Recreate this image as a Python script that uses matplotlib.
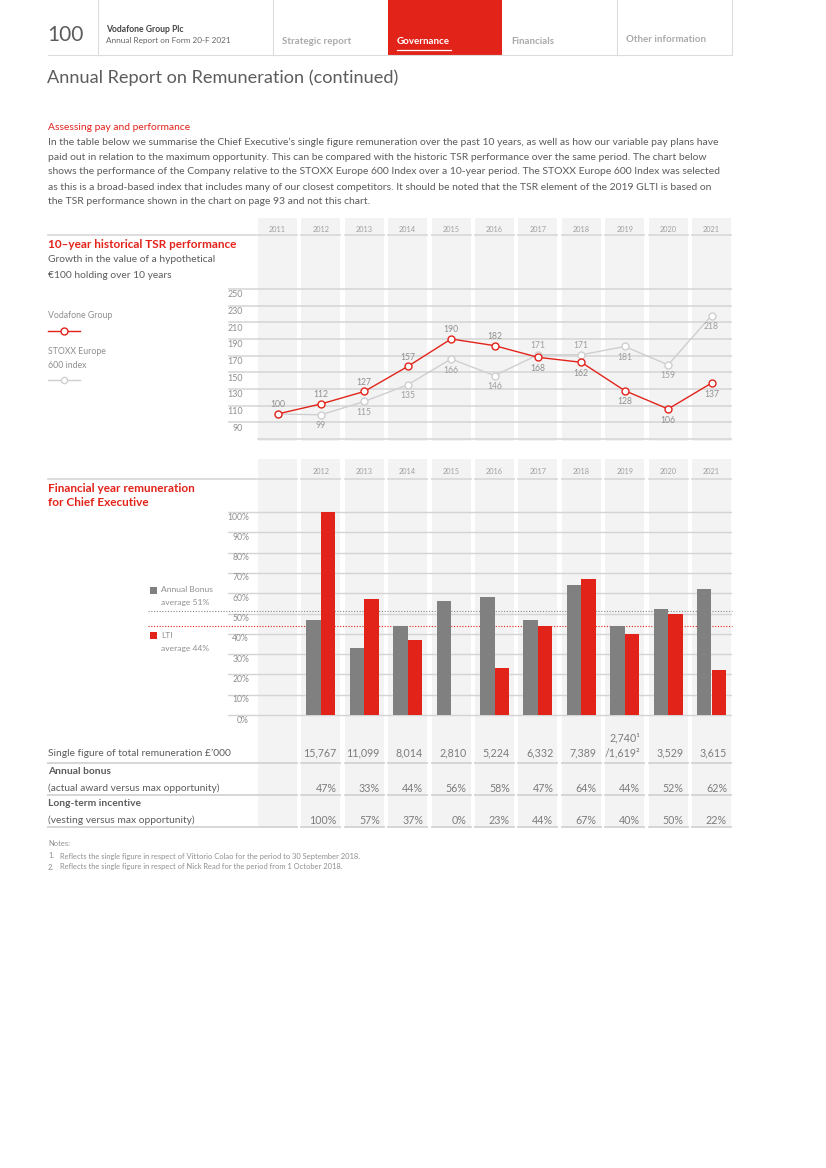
import numpy as np
import matplotlib
matplotlib.use("Agg")
import matplotlib.pyplot as plt
import matplotlib.transforms as mtransforms
from matplotlib.patches import Rectangle

plt.rcParams.update({
    "font.family": ["Lato", "DejaVu Sans"],
    "font.size": 7,
})

# --- data
tsr_years = [2011, 2012, 2013, 2014, 2015, 2016, 2017, 2018, 2019, 2020, 2021]
vodafone_tsr = [100, 112, 127, 157, 190, 182, 168, 162, 128, 106, 137]
stoxx_tsr = [100, 99, 115, 135, 166, 146, 171, 171, 181, 159, 218]
tsr_ticks = [90, 110, 130, 150, 170, 190, 210, 230, 250]

bar_years = [2012, 2013, 2014, 2015, 2016, 2017, 2018, 2019, 2020, 2021]
bonus_pct = [47, 33, 44, 56, 58, 47, 64, 44, 52, 62]
lti_pct = [100, 57, 37, 0, 23, 44, 67, 40, 50, 22]
pct_ticks = [0, 10, 20, 30, 40, 50, 60, 70, 80, 90, 100]
single_figure = ["15,767", "11,099", "8,014", "2,810", "5,224", "6,332",
                 "7,389", "/1,619²", "3,529", "3,615"]
single_figure_extra = {2019: "2,740¹"}

# where the value labels sit (+1 above the point, -1 below, 0 none)
voda_lbl = [1, 1, 1, 1, 1, 1, -1, -1, -1, -1, -1]
stoxx_lbl = [0, -1, -1, -1, -1, -1, 1, 1, -1, -1, -1]

RED = "#e2231a"
GREY_BAR = "#808080"
BAND = "#f3f3f3"
GRID = "#d4d4d4"
TXT = "#8f8f8f"
DARK = "#5c5c5c"

W, H = 826, 1168
fig = plt.figure(figsize=(W / 100, H / 100), dpi=100)

# column grid shared by both charts (pixels)
COL0, COLW, BANDW = 277.5, 43.4, 0.45


def yr(px):
    return 2011 + (px - COL0) / COLW


def add_px_axes(x0, y0, x1, y1):
    ax = fig.add_axes([x0 / W, 1 - y1 / H, (x1 - x0) / W, (y1 - y0) / H])
    ax.set_facecolor("none")
    ax.axis("off")
    return ax


page = fig.add_axes([0, 0, 1, 1], zorder=5)
page.set_xlim(0, W)
page.set_ylim(H, 0)
page.set_facecolor("none")
page.axis("off")

# --- page header
for x in [98, 273, 617, 732]:
    page.plot([x, x], [0, 55], color="#dcdcdc", lw=0.8)
page.plot([48, 732], [55, 55], color="#dcdcdc", lw=0.8)
page.add_patch(Rectangle((388, 0), 114, 55, color=RED, lw=0))
page.plot([397, 451], [49.5, 49.5], color="white", lw=0.9)
page.text(47, 35, "100", fontsize=15, color=DARK, va="center")
page.text(106, 29, "Vodafone Group Plc", fontsize=6.2, color="#444444", fontweight="bold", va="center")
page.text(106, 40, "Annual Report on Form 20-F 2021", fontsize=5.9, color="#666666", va="center")
page.text(282, 41, "Strategic report", fontsize=7, color="#aaaaaa", fontweight="bold", va="center")
page.text(397, 41, "Governance", fontsize=7, color="white", fontweight="bold", va="center")
page.text(511, 41, "Financials", fontsize=7, color="#aaaaaa", fontweight="bold", va="center")
page.text(626, 40, "Other information", fontsize=7, color="#aaaaaa", fontweight="bold", va="center")

page.text(47, 78, "Annual Report on Remuneration (continued)", fontsize=13.1,
          color=DARK, va="center")

page.text(48, 127, "Assessing pay and performance", fontsize=7.4, color=RED, va="center")
body = [
    "In the table below we summarise the Chief Executive\u2019s single figure remuneration over the past 10 years, as well as how our variable pay plans have",
    "paid out in relation to the maximum opportunity. This can be compared with the historic TSR performance over the same period. The chart below",
    "shows the performance of the Company relative to the STOXX Europe 600 Index over a 10-year period. The STOXX Europe 600 Index was selected",
    "as this is a broad-based index that includes many of our closest competitors. It should be noted that the TSR element of the 2019 GLTI is based on",
    "the TSR performance shown in the chart on page 93 and not this chart.",
]
for i, line in enumerate(body):
    page.text(48, 142 + 15 * i, line, fontsize=7.5, color=DARK, va="center")

# --- TSR chart
ax_t = add_px_axes(228, 218, 732, 441)
ax_t.set_xlim(yr(228), yr(732))
ax_t.set_ylim(90 - (441 - 422.3) / 0.8333, 90 + (422.3 - 218) / 0.8333)
blend_t = mtransforms.blended_transform_factory(ax_t.transData, page.transData)
for y in tsr_years:
    ax_t.axvspan(y - BANDW, y + BANDW, color=BAND, lw=0, zorder=0)
    ax_t.text(y, 229, str(y), transform=blend_t, ha="center", va="center",
              fontsize=5.3, color="#a0a0a0")
    page.plot([y - BANDW, y + BANDW], [235, 235], transform=blend_t, color="#dadada", lw=1.3)
page.plot([48, 256], [235, 235], color="#dadada", lw=1.3)
for g in tsr_ticks:
    ax_t.axhline(g, color=GRID, lw=1.1, zorder=1)
    ax_t.text(0.03, g - 7, str(g), transform=ax_t.get_yaxis_transform(),
              ha="right", va="center", fontsize=6.4, color=TXT)
ax_t.axhline(70, xmin=(258 - 228) / 504, color=GRID, lw=1.1, zorder=1)

ax_t.plot(tsr_years, stoxx_tsr, color="#cfcfcf", lw=1, marker="o", ms=5,
          mfc="white", mec="#cfcfcf", mew=1, zorder=3)
ax_t.plot(tsr_years, vodafone_tsr, color=RED, lw=1, marker="o", ms=5,
          mfc="white", mec=RED, mew=1, zorder=4)
for y, v, p in zip(tsr_years, vodafone_tsr, voda_lbl):
    ax_t.annotate(str(v), (y, v), xytext=(0, 6.8 if p > 0 else -8), textcoords="offset points",
                  ha="center", va="center", fontsize=6.2, color=TXT)
for y, v, p in zip(tsr_years, stoxx_tsr, stoxx_lbl):
    if p:
        ax_t.annotate(str(v), (y, v), xytext=(0, 6.8 if p > 0 else -8), textcoords="offset points",
                      ha="center", va="center", fontsize=6.2, color="#9e9e9e")

page.text(48, 244, "10\u2013year historical TSR performance", fontsize=8.5, color=RED,
          fontweight="bold", va="center")
page.text(48, 259, "Growth in the value of a hypothetical", fontsize=7.4, color=DARK, va="center")
page.text(48, 275, "\u20ac100 holding over 10 years", fontsize=7.4, color=DARK, va="center")
page.text(48, 316, "Vodafone Group", fontsize=6.3, color=TXT, va="center")
page.plot([48, 80], [331, 331], color=RED, lw=1, marker="", zorder=1)
page.plot([64], [331], marker="o", ms=5, mfc="white", mec=RED, mew=1)
page.text(48, 352, "STOXX Europe", fontsize=6.3, color=TXT, va="center")
page.text(48, 365, "600 index", fontsize=6.3, color=TXT, va="center")
page.plot([48, 80], [380, 380], color="#cfcfcf", lw=1)
page.plot([64], [380], marker="o", ms=4.5, mfc="white", mec="#cfcfcf", mew=1)

# --- remuneration bar chart
ax_b = add_px_axes(228, 459, 732, 828)
ax_b.set_xlim(yr(228), yr(732))
ax_b.set_ylim((715 - 828) / 2.03, (715 - 459) / 2.03)
blend_b = mtransforms.blended_transform_factory(ax_b.transData, page.transData)
for y in tsr_years:
    ax_b.axvspan(y - BANDW, y + BANDW, color=BAND, lw=0, zorder=0)
for y in bar_years:
    ax_b.text(y, 471, str(y), transform=blend_b, ha="center", va="center",
              fontsize=5.3, color="#a0a0a0")
for y in tsr_years:
    page.plot([y - BANDW, y + BANDW], [479, 479], transform=blend_b, color="#dadada", lw=1.3)
page.plot([48, 256], [479, 479], color="#dadada", lw=1.3)

for g in pct_ticks:
    ax_b.plot([yr(228), yr(732)], [g, g], color=GRID, lw=1, zorder=1)
    ax_b.text(0.0417, g - 2.5, f"{g}%", transform=ax_b.get_yaxis_transform(),
              ha="right", va="center", fontsize=6.2, color=TXT)

bw = 14.5 / COLW
xb = np.array(bar_years)
ax_b.bar(xb - bw / 2, bonus_pct, width=bw, color=GREY_BAR, lw=0, zorder=3)
ax_b.bar(xb + bw / 2, lti_pct, width=bw, color=RED, lw=0, zorder=3)

avg_bonus = round(np.mean(bonus_pct))
avg_lti = round(np.mean(lti_pct))
x_left = (148 - 228) / 504
ax_b.axhline(avg_bonus, xmin=x_left, color="#888888", lw=0.8, ls=(0, (1, 1.5)),
             clip_on=False, zorder=2)
ax_b.axhline(avg_lti, xmin=x_left, color=RED, lw=0.8, ls=(0, (1, 1.5)),
             clip_on=False, zorder=2)

page.text(48, 488, "Financial year remuneration", fontsize=8.5, color=RED,
          fontweight="bold", va="center")
page.text(48, 503, "for Chief Executive", fontsize=8.5, color=RED,
          fontweight="bold", va="center")
page.add_patch(Rectangle((150, 587), 6.5, 6.5, color=GREY_BAR, lw=0))
page.text(161, 590, "Annual Bonus", fontsize=6.1, color=TXT, va="center")
page.text(161, 602, f"average {avg_bonus}%", fontsize=6.1, color=TXT, va="center")
page.add_patch(Rectangle((150, 632), 6.5, 6.5, color=RED, lw=0))
page.text(161, 635, "LTI", fontsize=6.1, color=TXT, va="center")
page.text(161, 648, f"average {avg_lti}%", fontsize=6.1, color=TXT, va="center")

# --- table under the bars
rx = BANDW - 4 / COLW
VAL = "#7c7c7c"
FS = 7.4
page.text(48, 753, "Single figure of total remuneration \u00a3\u2019000", fontsize=FS,
          color=DARK, va="center")
page.text(48, 772, "Annual bonus", fontsize=FS, color=DARK, fontweight="bold", va="center")
page.text(48, 788, "(actual award versus max opportunity)", fontsize=FS, color=DARK, va="center")
page.text(48, 804, "Long-term incentive", fontsize=FS, color=DARK, fontweight="bold", va="center")
page.text(48, 820, "(vesting versus max opportunity)", fontsize=FS, color=DARK, va="center")
for y, s, b, l in zip(bar_years, single_figure, bonus_pct, lti_pct):
    page.text(y + rx, 753, s, transform=blend_b, ha="right", va="center",
              fontsize=7.7, color=VAL)
    if y in single_figure_extra:
        page.text(y + rx, 738, single_figure_extra[y], transform=blend_b, ha="right",
                  va="center", fontsize=7.7, color=VAL)
    page.text(y + rx, 788, f"{b}%", transform=blend_b, ha="right", va="center",
              fontsize=7.7, color=VAL)
    page.text(y + rx, 820, f"{l}%", transform=blend_b, ha="right", va="center",
              fontsize=7.7, color=VAL)
for ly in [763, 795, 827]:
    page.plot([48, 297], [ly, ly], color="#d6d6d6", lw=1.4)
    for y in bar_years:
        page.plot([y - BANDW, y + BANDW], [ly, ly], transform=blend_b, color="#d6d6d6", lw=1.4)

page.text(48, 844, "Notes:", fontsize=5.4, color=TXT, va="center")
page.text(48, 856, "1.", fontsize=5.4, color=TXT, va="center")
page.text(60, 856, "Reflects the single figure in respect of Vittorio Colao for the period to 30 September 2018.",
          fontsize=5.4, color=TXT, va="center")
page.text(48, 867, "2.", fontsize=5.4, color=TXT, va="center")
page.text(60, 867, "Reflects the single figure in respect of Nick Read for the period from 1 October 2018.",
          fontsize=5.4, color=TXT, va="center")

fig.savefig("out.png", dpi=100)
